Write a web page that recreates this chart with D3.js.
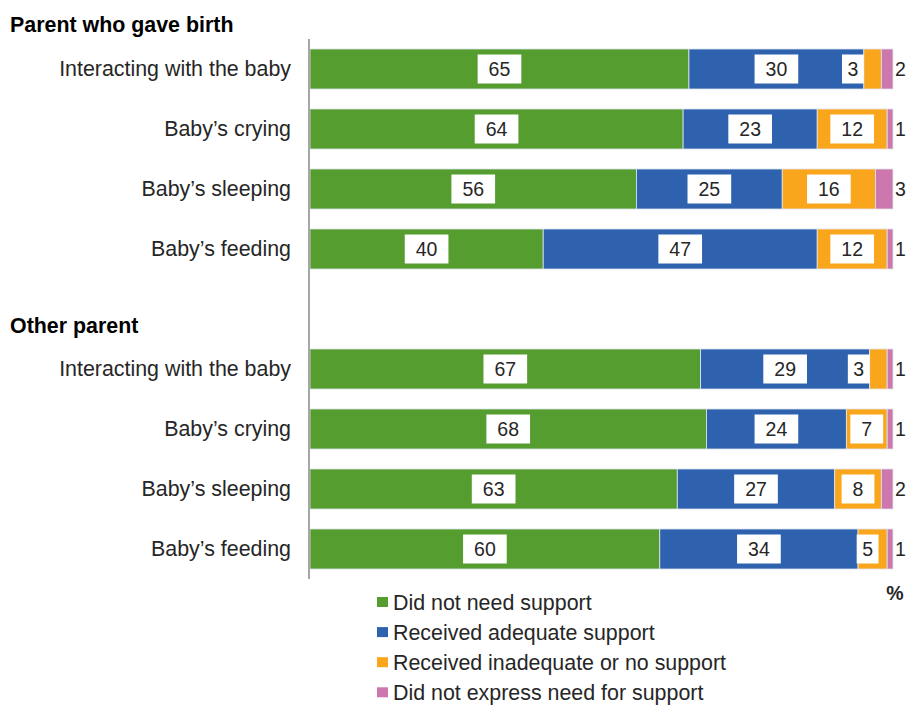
<!DOCTYPE html>
<html>
<head>
<meta charset="utf-8">
<script src="https://cdn.jsdelivr.net/npm/d3@7"></script>
<style>
  html, body { margin: 0; padding: 0; background: #fff; }
  svg { display: block; font-family: Arial, "Liberation Sans", sans-serif; }
</style>
</head>
<body>
<svg id="chart" width="909" height="706"></svg>
<script>
// Support received for parenting topics, by parent (percent)
const groups = ["Parent who gave birth", "Other parent"];
const topics = ["Interacting with the baby", "Baby’s crying", "Baby’s sleeping", "Baby’s feeding"];
const seriesNames = [
  "Did not need support",
  "Received adequate support",
  "Received inadequate or no support",
  "Did not express need for support"
];
const seriesColors = ["#559d2f", "#2e62ae", "#f9a61c", "#cc77ad"];

// One array per series, order: birth parent topics, then other parent topics
const didNotNeed      = [65, 64, 56, 40, 67, 68, 63, 60];
const receivedAdequate = [30, 23, 25, 47, 29, 24, 27, 34];
const receivedInadequate = [3, 12, 16, 12, 3, 7, 8, 5];
const didNotExpress   = [2, 1, 3, 1, 1, 1, 2, 1];
const seriesValues = [didNotNeed, receivedAdequate, receivedInadequate, didNotExpress];

// Category slots: four topics, an empty spacer, four topics
const slots = [];
groups.forEach((g, gi) => {
  topics.forEach((t, ti) => slots.push({ key: g + "|" + t, group: g, topic: t, idx: gi * topics.length + ti }));
  if (gi < groups.length - 1) slots.push({ key: "gap" + gi, spacer: true });
});

const svg = d3.select("#chart");
const x = d3.scaleLinear().domain([0, 100]).range([310, 893]);
const y = d3.scaleBand().domain(slots.map(d => d.key)).range([39, 579]).paddingInner(0.333).paddingOuter(0.1665);

const rows = slots.filter(d => !d.spacer).map(s => {
  const vals = seriesValues.map(a => a[s.idx]);
  let acc = 0;
  const segs = vals.map((v, i) => {
    const seg = { series: i, value: v, x0: acc, x1: acc + v };
    acc += v;
    return seg;
  });
  return { ...s, segs };
});

const fontL = 21.4;

// Group headers
const headerY = [25, 326];
groups.forEach((g, gi) => {
  svg.append("text")
    .attr("x", 10).attr("y", headerY[gi])
    .attr("dy", "0.35em")
    .attr("font-size", fontL).attr("font-weight", "bold")
    .attr("fill", "#000")
    .text(g);
});

// Category labels
svg.append("g").selectAll("text").data(rows).join("text")
  .attr("x", 291)
  .attr("y", d => y(d.key) + y.bandwidth() / 2)
  .attr("dy", "0.35em")
  .attr("text-anchor", "end")
  .attr("font-size", fontL)
  .attr("fill", "#262626")
  .text(d => d.topic);

// Stacked bars
const rowG = svg.append("g").selectAll("g").data(rows).join("g")
  .attr("transform", d => `translate(0,${y(d.key)})`);

rowG.selectAll("rect").data(d => d.segs).join("rect")
  .attr("x", d => x(d.x0))
  .attr("width", d => x(d.x1) - x(d.x0))
  .attr("y", 0)
  .attr("height", y.bandwidth())
  .attr("fill", d => seriesColors[d.series])
  .attr("stroke", "#dfe6f0")
  .attr("stroke-width", 0.8);

// Value labels in white boxes (first three series) and outside (last series)
const boxH = 29, fontV = 19.5;
rowG.each(function (row) {
  const g = d3.select(this);
  const cy = y.bandwidth() / 2;
  row.segs.forEach(seg => {
    const s = x(seg.x0), e = x(seg.x1);
    if (seg.series === seriesValues.length - 1) {
      g.append("text")
        .attr("x", e + 2).attr("y", cy).attr("dy", "0.35em")
        .attr("font-size", fontV).attr("fill", "#262626")
        .text(seg.value);
      return;
    }
    const txt = String(seg.value);
    const tw = txt.length * fontV * 0.556;
    let w = tw + 22;
    let bx;
    if (e - s >= w) {
      bx = (s + e) / 2 - w / 2;
    } else {
      w = tw + 11;
      bx = (e - s >= w) ? (s + e) / 2 - w / 2 - 5 : s - w;
    }
    g.append("rect")
      .attr("x", bx).attr("y", cy - boxH / 2)
      .attr("width", w).attr("height", boxH)
      .attr("fill", "#fff");
    g.append("text")
      .attr("x", bx + w / 2).attr("y", cy).attr("dy", "0.35em")
      .attr("text-anchor", "middle")
      .attr("font-size", fontV).attr("fill", "#262626")
      .text(txt);
  });
});

// Category axis line
svg.append("line")
  .attr("x1", 309).attr("x2", 309)
  .attr("y1", 39).attr("y2", 579)
  .attr("stroke", "#a6a6a6").attr("stroke-width", 2);

// Unit marker
svg.append("text")
  .attr("x", 895).attr("y", 593).attr("dy", "0.35em")
  .attr("text-anchor", "middle")
  .attr("font-size", 19.5).attr("font-weight", "bold").attr("fill", "#262626")
  .text("%");

// Legend
const leg = svg.append("g").selectAll("g").data(seriesNames).join("g")
  .attr("transform", (d, i) => `translate(377,${602 + i * 30.1})`);
leg.append("rect")
  .attr("x", 0).attr("y", -5).attr("width", 11).attr("height", 10)
  .attr("fill", (d, i) => seriesColors[i]);
leg.append("text")
  .attr("x", 16).attr("y", 0).attr("dy", "0.35em")
  .attr("font-size", fontL).attr("fill", "#262626")
  .text(d => d);
</script>
</body>
</html>
